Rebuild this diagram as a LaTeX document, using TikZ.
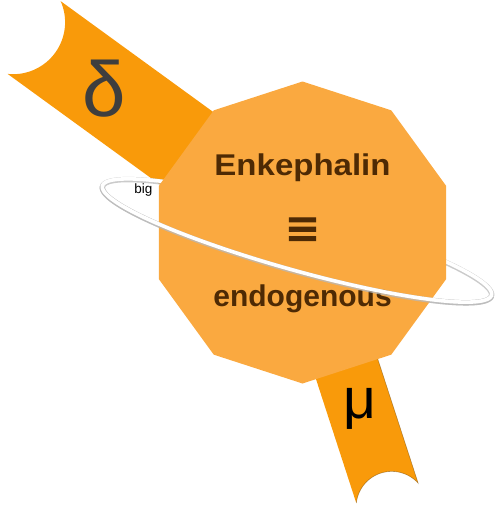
\documentclass[tikz,border=0pt]{standalone}
\usepackage{fontspec}
\setmainfont{Liberation Sans}
\newfontfamily\eqfont{Liberation Sans Bold}[FakeBold=2.2]
\usepackage{graphicx}
\definecolor{armorange}{RGB}{249,154,10}
\definecolor{decaorange}{RGB}{250,169,64}
\definecolor{txtbrown}{RGB}{78,42,4}
\definecolor{deltagrey}{RGB}{62,62,62}
\begin{document}
\begin{tikzpicture}[x=1pt,y=-1pt]
\tikzset{
  arm/.style={fill=armorange, draw=none},
  armedge/.style={draw=black!60!armorange, line width=0.6pt, opacity=0.45},
  ringshadow/.style={draw=gray!55, line width=5.4pt, opacity=0.75},
  ringwhite/.style={draw=white, line width=3.6pt},
  decagon/.style={fill=decaorange, draw=none},
  bigtext/.style={text=txtbrown, font=\bfseries\fontsize{30}{36}\selectfont, inner sep=0pt},
}
\useasboundingbox (0,0) rectangle (502,506);
% delta arm
\fill[arm] (329.0,196.1) -- (60.6,1.1) -- plot[domain=-23.9:96.1, samples=40] ({13.1+52*cos(\x)},{22.2+52*sin(\x)}) -- (7.6,73.9) -- (276.0,268.9) -- cycle;
% mu arm
\fill[arm] (271.6,242.5) -- (356.3,503.1) -- plot[domain=186.3:317.9, samples=40] ({391.7+35.6*cos(\x)},{507.0+35.6*sin(\x)}) -- (418.1,483.1) -- (333.4,222.5) -- cycle;
\draw[armedge] plot[domain=186.3:317.9, samples=40] ({391.7+35.6*cos(\x)},{507.0+35.6*sin(\x)}) -- (333.4,222.5);
% arm labels
\node[text=deltagrey, font=\fontsize{78}{80}\selectfont, inner sep=0pt] (delta) at (104.5,89) {δ};
\node[text=black, font=\fontsize{57}{60}\selectfont, inner sep=0pt] (mu) at (359.7,409) {μ};
% full ring (rear part)
\draw[ringshadow, yshift=-0.7pt] plot[domain=0:360, samples=180, smooth] ({297+194.5*cos(\x)-8.0*sin(\x)},{240.5+54.7*cos(\x)+28.4*sin(\x)});
\draw[ringwhite] plot[domain=0:360, samples=180, smooth] ({297+194.5*cos(\x)-8.0*sin(\x)},{240.5+54.7*cos(\x)+28.4*sin(\x)});
% decagon
\fill[decagon, shift={(302.5,232.5)}] (-90:151) \foreach \a in {-54,-18,...,234} {-- (\a:151)} -- cycle;
% texts
\node[bigtext, anchor=base] (enk) at (302.5,175) {\scalebox{1.1}[1]{Enkephalin}};
\node[text=txtbrown, font=\eqfont\fontsize{54}{60}\selectfont, inner sep=0pt] (equiv) at (302.5,232.5) {≡};
\node[bigtext, anchor=base] (endo) at (302.5,306.5) {endogenous};
% front part of the ring
\draw[ringshadow, yshift=-0.7pt] plot[domain=0:180, samples=90, smooth] ({297+194.5*cos(\x)-8.0*sin(\x)},{240.5+54.7*cos(\x)+28.4*sin(\x)});
\draw[ringwhite] plot[domain=0:180, samples=90, smooth] ({297+194.5*cos(\x)-8.0*sin(\x)},{240.5+54.7*cos(\x)+28.4*sin(\x)});
\node[text=black, font=\fontsize{13.5}{16}\selectfont, anchor=base, inner sep=0pt] (big) at (143.3,193.3) {big};
\end{tikzpicture}
\end{document}
